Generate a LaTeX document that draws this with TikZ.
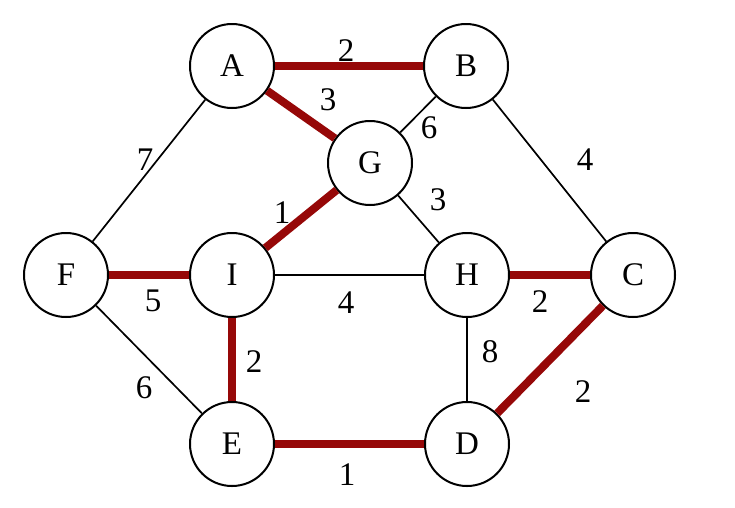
\documentclass[tikz,border=0pt]{standalone}
\usepackage{fontspec}
\setmainfont{Liberation Serif}
\definecolor{mstred}{RGB}{150,8,8}
\begin{document}
\begin{tikzpicture}[x=1pt,y=-1pt,
  vertex/.style={circle,draw=black,line width=2pt,minimum size=84pt,inner sep=0pt,font=\fontsize{33}{33}\selectfont},
  thin edge/.style={draw=black,line width=1.7pt},
  tree edge/.style={draw=mstred,line width=8pt},
  wlabel/.style={inner sep=0pt,font=\fontsize{33}{33}\selectfont}]
\useasboundingbox (0,0) rectangle (735,507);
\node[vertex] (A) at (232,66) {A};
\node[vertex] (B) at (466,66) {B};
\node[vertex] (G) at (370,163) {G};
\node[vertex] (F) at (66,275) {F};
\node[vertex] (I) at (232,275) {I};
\node[vertex] (H) at (467,275) {H};
\node[vertex] (C) at (633,275) {C};
\node[vertex] (E) at (232,444) {E};
\node[vertex] (D) at (467,444) {D};
% thin edges
\draw[thin edge] (A) -- (F);
\draw[thin edge] (B) -- (G);
\draw[thin edge] (B) -- (C);
\draw[thin edge] (G) -- (H);
\draw[thin edge] (I) -- (H);
\draw[thin edge] (H) -- (D);
\draw[thin edge] (F) -- (E);
% tree edges
\draw[tree edge] (A) -- (B);
\draw[tree edge] (A) -- (G);
\draw[tree edge] (G) -- (I);
\draw[tree edge] (F) -- (I);
\draw[tree edge] (H) -- (C);
\draw[tree edge] (I) -- (E);
\draw[tree edge] (C) -- (D);
\draw[tree edge] (E) -- (D);
% weights
\node[wlabel] (wAB) at (346,51) {2};
\node[wlabel] (wAG) at (328,100) {3};
\node[wlabel] (wBG) at (429,128) {6};
\node[wlabel] (wGH) at (438,200) {3};
\node[wlabel] (wGI) at (282,213) {1};
\node[wlabel] (wAF) at (145,160) {7};
\node[wlabel] (wBC) at (585,160) {4};
\node[wlabel] (wFI) at (153,301) {5};
\node[wlabel] (wIH) at (346,303) {4};
\node[wlabel] (wHC) at (540,302) {2};
\node[wlabel] (wIE) at (254,362) {2};
\node[wlabel] (wHD) at (490,352) {8};
\node[wlabel] (wFE) at (144,388) {6};
\node[wlabel] (wCD) at (583,392) {2};
\node[wlabel] (wED) at (347,475) {1};
\end{tikzpicture}
\end{document}
